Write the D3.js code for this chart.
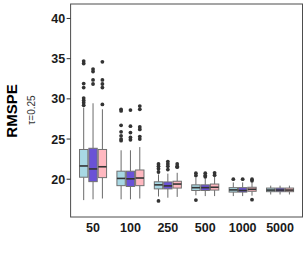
<!DOCTYPE html>
<html>
<head>
<meta charset="utf-8">
<script src="https://cdn.jsdelivr.net/npm/d3@7"></script>
<style>
  body { margin: 0; background: #fff; }
  svg { display: block; font-family: "Liberation Sans", Arial, sans-serif; }
</style>
</head>
<body>
<div id="plot"></div>
<script>
// sample sizes on the x axis
var sizes = ["50", "100", "250", "500", "1000", "5000"];
var methods = ["m1", "m2", "m3"];
var colors = ["#a8d8e4", "#6a52d6", "#ffb8c0"];
var yTicks = [20, 25, 30, 35, 40];

// box stats per method: [lower whisker, q1, median, q3, upper whisker] for each size
var stats_m1 = [
  [17.4, 20.25, 21.65, 23.7, 28.9],
  [17.5, 19.2, 20.1, 21.0, 23.6],
  [17.85, 18.8, 19.3, 19.68, 20.6],
  [18.0, 18.6, 18.95, 19.3, 20.2],
  [17.9, 18.4, 18.67, 18.95, 19.6],
  [18.1, 18.45, 18.65, 18.9, 19.2]
];
var stats_m2 = [
  [17.5, 19.7, 21.28, 23.85, 29.45],
  [17.5, 19.1, 20.05, 21.0, 23.6],
  [17.7, 18.8, 19.17, 19.66, 20.7],
  [17.9, 18.6, 18.95, 19.3, 20.1],
  [17.9, 18.4, 18.6, 18.95, 19.6],
  [18.1, 18.45, 18.65, 18.9, 19.2]
];
var stats_m3 = [
  [17.6, 20.2, 21.55, 23.7, 28.7],
  [17.6, 19.2, 20.15, 21.15, 24.0],
  [17.8, 18.9, 19.4, 19.75, 20.8],
  [17.9, 18.65, 19.0, 19.4, 20.3],
  [17.95, 18.5, 18.75, 19.0, 19.6],
  [18.1, 18.45, 18.65, 18.9, 19.2]
];

// outliers per method, per size
var out_m1 = [
  [29.2, 29.5, 29.8, 30.1, 31.4, 31.9, 34.4, 34.7],
  [24.8, 25.0, 25.4, 25.9, 26.7, 28.5, 28.7],
  [17.3, 20.9, 21.3, 21.6, 21.9],
  [17.4, 20.45, 20.75],
  [20.0],
  []
];
var out_m2 = [
  [31.85, 32.35, 33.4, 33.7],
  [24.9, 25.2, 25.8, 26.6, 28.6],
  [21.2, 21.6, 21.9, 22.2],
  [20.3, 20.45, 20.75],
  [20.0],
  []
];
var out_m3 = [
  [29.3, 31.4, 31.85, 32.35, 34.6],
  [25.0, 25.3, 26.2, 26.5, 28.7, 29.1],
  [21.5, 21.6, 21.9],
  [20.5, 20.8],
  [17.45, 19.8, 20.0],
  []
];

var allStats = [stats_m1, stats_m2, stats_m3];
var allOut = [out_m1, out_m2, out_m3];

var W = 307, H = 256;
var pLeft = 70.6, pRight = 302.5, pTop = 4, pBottom = 217;

var svg = d3.select("#plot").append("svg")
    .attr("width", W)
    .attr("height", H);

var x = d3.scalePoint().domain(sizes).range([pLeft, pRight]).padding(0.6);
var y = d3.scaleLinear().domain([15.3, 41.8]).range([pBottom, pTop]);

var groupW = x.step() * 0.75;
var boxW = groupW / methods.length;

function xc(si, mi) {
  return x(sizes[si]) - groupW / 2 + boxW * (mi + 0.5);
}

// flatten into one record per box
var boxes = [];
methods.forEach(function(m, mi) {
  sizes.forEach(function(s, si) {
    var st = allStats[mi][si];
    boxes.push({ mi: mi, si: si, lo: st[0], q1: st[1], med: st[2], q3: st[3], hi: st[4], out: allOut[mi][si] });
  });
});

var g = svg.append("g");

var bx = g.selectAll(".box").data(boxes).enter().append("g").attr("class", "box");

// whiskers
bx.append("line")
  .attr("x1", function(d) { return xc(d.si, d.mi); })
  .attr("x2", function(d) { return xc(d.si, d.mi); })
  .attr("y1", function(d) { return y(d.hi); })
  .attr("y2", function(d) { return y(d.q3); })
  .attr("stroke", "#6b6b6b").attr("stroke-width", 1);
bx.append("line")
  .attr("x1", function(d) { return xc(d.si, d.mi); })
  .attr("x2", function(d) { return xc(d.si, d.mi); })
  .attr("y1", function(d) { return y(d.q1); })
  .attr("y2", function(d) { return y(d.lo); })
  .attr("stroke", "#6b6b6b").attr("stroke-width", 1);

// boxes
bx.append("rect")
  .attr("x", function(d) { return xc(d.si, d.mi) - boxW / 2 + 0.5; })
  .attr("width", boxW - 1)
  .attr("y", function(d) { return y(d.q3); })
  .attr("height", function(d) { return y(d.q1) - y(d.q3); })
  .attr("fill", function(d) { return colors[d.mi]; })
  .attr("stroke", "#707070").attr("stroke-width", 1);

// medians
bx.append("line")
  .attr("x1", function(d) { return xc(d.si, d.mi) - boxW / 2 + 0.5; })
  .attr("x2", function(d) { return xc(d.si, d.mi) + boxW / 2 - 0.5; })
  .attr("y1", function(d) { return y(d.med); })
  .attr("y2", function(d) { return y(d.med); })
  .attr("stroke", "#333").attr("stroke-width", 1.6);

// outliers
bx.selectAll("circle")
  .data(function(d) { return d.out.map(function(v) { return { v: v, si: d.si, mi: d.mi }; }); })
  .enter().append("circle")
  .attr("cx", function(d) { return xc(d.si, d.mi); })
  .attr("cy", function(d) { return y(d.v); })
  .attr("r", 1.9)
  .attr("fill", "#333");

// panel border
svg.append("rect")
  .attr("x", pLeft).attr("y", pTop)
  .attr("width", pRight - pLeft).attr("height", pBottom - pTop)
  .attr("fill", "none").attr("stroke", "#4d4d4d").attr("stroke-width", 1);

// y axis ticks and labels
var yAxis = svg.append("g");
yAxis.selectAll("line").data(yTicks).enter().append("line")
  .attr("x1", pLeft - 4).attr("x2", pLeft)
  .attr("y1", function(d) { return y(d); })
  .attr("y2", function(d) { return y(d); })
  .attr("stroke", "#333");
yAxis.selectAll("text").data(yTicks).enter().append("text")
  .attr("x", pLeft - 5.5)
  .attr("y", function(d) { return y(d); })
  .attr("dy", "0.36em")
  .attr("text-anchor", "end")
  .attr("font-size", 12.5)
  .attr("font-weight", "bold")
  .attr("fill", "#1a1a1a")
  .text(function(d) { return d; });

// x labels
svg.append("g").selectAll("text").data(sizes).enter().append("text")
  .attr("x", function(d) { return x(d); })
  .attr("y", 231.5)
  .attr("text-anchor", "middle")
  .attr("font-size", 12.5)
  .attr("font-weight", "bold")
  .attr("fill", "#1a1a1a")
  .text(function(d) { return d; });

// y titles
svg.append("text")
  .attr("transform", "translate(17,111) rotate(-90)")
  .attr("text-anchor", "middle")
  .attr("font-size", 15)
  .attr("font-weight", "bold")
  .attr("fill", "#000")
  .text("RMSPE");
svg.append("text")
  .attr("transform", "translate(35,110) rotate(-90)")
  .attr("text-anchor", "middle")
  .attr("font-size", 10)
  .attr("fill", "#333")
  .text("τ=0.25");
</script>
</body>
</html>
